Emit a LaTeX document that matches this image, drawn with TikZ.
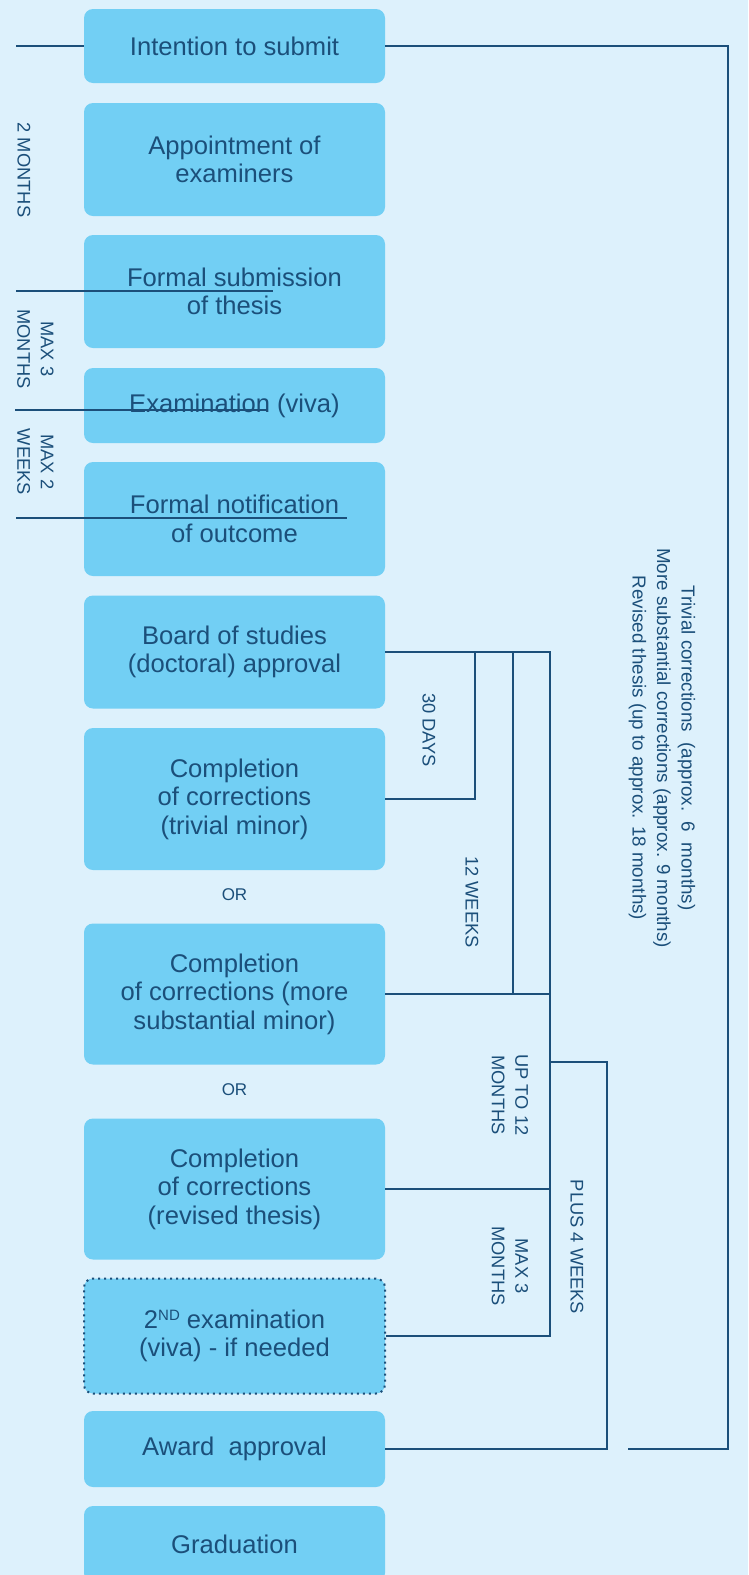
\documentclass[tikz,border=0pt]{standalone}
\usepackage{fontspec}
\setmainfont{Liberation Sans}
\definecolor{bg}{RGB}{221,241,252}
\definecolor{boxfill}{RGB}{114,207,244}
\definecolor{ink}{RGB}{27,79,122}
\begin{document}
\begin{tikzpicture}[x=1pt,y=-1pt,
  stage/.style={fill=boxfill, rounded corners=9pt, minimum width=301pt, inner sep=0pt, align=center, text=ink, font=\fontsize{25.6}{28.5}\selectfont},
  optstage/.style={stage, draw=ink, line width=2pt, dash pattern=on 2pt off 4pt},
  conn/.style={draw=ink, line width=2.4pt},
  lbl/.style={text=ink, font=\fontsize{18.3}{23.5}\selectfont, rotate=-90, align=center, inner sep=0pt},
  biglbl/.style={lbl, font=\fontsize{18.8}{24.5}\selectfont},
  ortext/.style={text=ink, font=\fontsize{17}{20}\selectfont, inner sep=0pt}]
\fill[bg] (0,0) rectangle (748,1575);
\useasboundingbox (0,0) rectangle (748,1575);

\node[stage, minimum height=74pt]  (b1)  at (234.5,46)    {Intention to submit};
\node[stage, minimum height=113pt] (b2)  at (234.5,159.5) {Appointment of\\examiners};
\node[stage, minimum height=113pt] (b3)  at (234.5,291.5) {Formal submission\\of thesis};
\node[stage, minimum height=75pt]  (b4)  at (234.5,405.5) {Examination (viva)};
\node[stage, minimum height=114pt] (b5)  at (234.5,519)   {Formal notification\\of outcome};
\node[stage, minimum height=113pt] (b6)  at (234.5,652)   {Board of studies\\(doctoral) approval};
\node[stage, minimum height=142pt] (b7)  at (234.5,799)   {Completion\\of corrections\\(trivial minor)};
\node[ortext] (or1) at (234.5,895) {OR};
\node[stage, minimum height=141pt] (b8)  at (234.5,994)   {Completion\\of corrections (more\\substantial minor)};
\node[ortext] (or2) at (234.5,1090) {OR};
\node[stage, minimum height=141pt] (b9)  at (234.5,1189)  {Completion\\of corrections\\(revised thesis)};
\node[optstage, minimum height=115pt] (b10) at (234.5,1336) {2{\fontsize{15}{15}\selectfont\raisebox{8pt}{ND}} examination\\(viva) - if needed};
\node[stage, minimum height=76pt]  (b11) at (234.5,1449)  {Award\ \ approval};
\node[stage, minimum height=76pt]  (b12) at (234.5,1544)  {Graduation};

% left timeline
\coordinate (L1) at (16,46);
\draw[conn] (L1) -- (b1.west);
\coordinate (a1) at (16,291);  \coordinate (a2) at (273,291);
\coordinate (c1) at (15,410);  \coordinate (c2) at (268,410);
\coordinate (d1) at (16,518);  \coordinate (d2) at (347,518);
\draw[conn] (a1) -- (a2);
\draw[conn] (c1) -- (c2);
\draw[conn] (d1) -- (d2);
\node[lbl] (t2m) at (24,170) {2 MONTHS};
\node[lbl] (t3m) at (35.5,349) {MAX 3\\MONTHS};
\node[lbl] (t2w) at (35.5,462) {MAX 2\\WEEKS};

% right big bracket
\coordinate (R1) at (728,46);
\coordinate (R2) at (728,1449);
\coordinate (R3) at (628,1449);
\draw[conn] (b1.east) -- (R1) -- (R2) -- (R3);
\node[biglbl] (tall) at (662,748) {Trivial corrections\ \ (approx.\ \ 6\ \ months)\\More substantial corrections (approx. 9 months)\\Revised thesis (up to approx. 18 months)};

% corrections brackets
\coordinate (Ptop) at (550,652);
\coordinate (D30) at (475,652);
\coordinate (W12) at (513,652);
\coordinate (Pmid) at (550,1062);
\coordinate (P4) at (607,1062);
\draw[conn] (b6.east) -- (Ptop) |- (b10.east);
\draw[conn] (b7.east) -| (D30);
\draw[conn] (b8.east) -- (b8.east -| Ptop);
\draw[conn] (W12) -- (W12 |- b8.east);
\draw[conn] (b9.east) -- (b9.east -| Ptop);
\draw[conn] (Pmid) -- (P4) |- (b11.east);

\node[lbl] (t30) at (429,730) {30 DAYS};
\node[lbl] (t12w) at (472,902) {12 WEEKS};
\node[lbl] (tup) at (510,1095) {UP TO 12\\MONTHS};
\node[lbl] (tm3) at (510,1266) {MAX 3\\MONTHS};
\node[lbl] (tp4) at (577,1247) {PLUS 4 WEEKS};
\end{tikzpicture}
\end{document}
